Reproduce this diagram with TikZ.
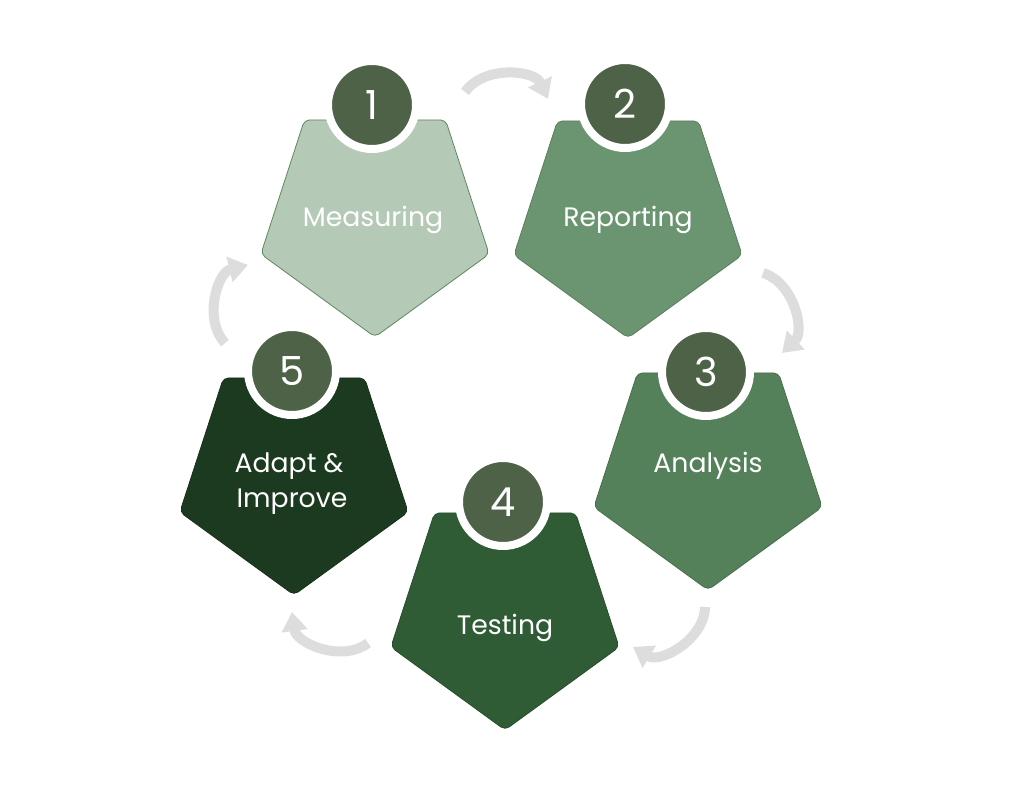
\documentclass[tikz,border=0pt]{standalone}
\usepackage{fontspec}
\setmainfont{Poppins}
\usetikzlibrary{arrows.meta,calc}
\definecolor{pA}{HTML}{B4C9B6}
\definecolor{pAb}{HTML}{5E8862}
\definecolor{pB}{HTML}{6B9570}
\definecolor{pC}{HTML}{55815A}
\definecolor{pD}{HTML}{305C35}
\definecolor{pE}{HTML}{1C3A20}
\definecolor{circ}{HTML}{4E6248}
\definecolor{arr}{HTML}{DCDDDC}
\tikzset{
  pent/.style={rounded corners=5pt, line width=0.8pt},
  lbl/.style={text=white, font=\fontsize{26.7}{32}\selectfont, anchor=base, inner sep=0pt},
  num/.style={circle, fill=circ, draw=white, line width=8pt, minimum size=88pt, inner sep=0pt,
              text=white, font=\fontsize{40}{44}\selectfont},
  cyc/.style={draw=arr, line width=10pt, line cap=butt,
              -{Triangle[width=25pt,length=19pt]}, bend left=60},
}
\newcommand{\pentagon}[4]{% center x, center y, fill, draw
  \path[pent, fill=#3, draw=#4]
    (#1,#2) ++(-90:120) -- ($(#1,#2)+(-18:120)$) -- ($(#1,#2)+(54:120)$)
    -- ($(#1,#2)+(126:120)$) -- ($(#1,#2)+(198:120)$) -- cycle;}
\begin{document}
\begin{tikzpicture}[x=1pt,y=1pt]
\useasboundingbox[fill=white] (0,0) rectangle (1024,790);
% arrows
\coordinate (a1s) at (465,698); \coordinate (a1e) at (548,691);
\coordinate (a2s) at (763,517); \coordinate (a2e) at (782,437);
\coordinate (a3s) at (705,183); \coordinate (a3e) at (633,143);
\coordinate (a4s) at (368,147); \coordinate (a4e) at (292,178);
\coordinate (a5s) at (225,447); \coordinate (a5e) at (248,525);
\draw[cyc] (a1s) to (a1e);
\draw[cyc] (a2s) to (a2e);
\draw[cyc] (a3s) to (a3e);
\draw[cyc] (a4s) to (a4e);
\draw[cyc] (a5s) to (a5e);
% pentagons
\pentagon{375}{573}{pA}{pAb}
\pentagon{628}{572}{pB}{pB!85!black}
\pentagon{708}{320}{pC}{pC!85!black}
\pentagon{505}{180}{pD}{pD!85!black}
\pentagon{294}{315}{pE}{pE!85!black}
% labels
\node[lbl] (t1) at (373,563) {Measuring};
\node[lbl] (t2) at (628,563) {Reporting};
\node[lbl] (t3) at (708,317) {Analysis};
\node[lbl] (t4) at (505,156) {Testing};
\node[lbl] (t5a) at (289,317) {Adapt \&};
\node[lbl] (t5b) at (292,283) {Improve};
% number circles
\node[num] (n1) at (372,685) {1};
\node[num] (n2) at (625,686) {2};
\node[num] (n3) at (706,418) {3};
\node[num] (n4) at (503,288) {4};
\node[num] (n5) at (292,419) {5};
\end{tikzpicture}
\end{document}
